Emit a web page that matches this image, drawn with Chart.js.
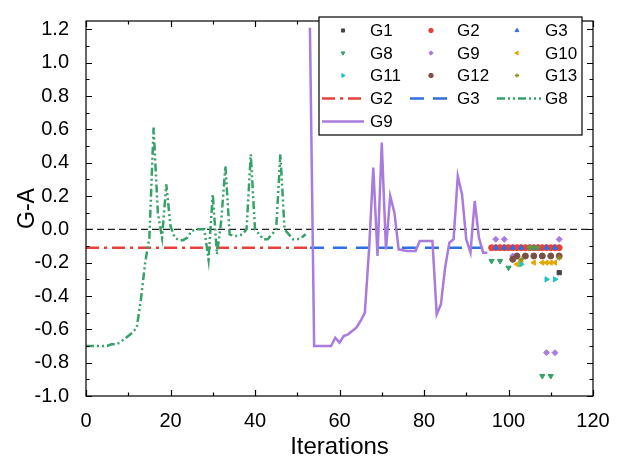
<!DOCTYPE html>
<html>
<head>
<meta charset="utf-8">
<script src="https://cdn.jsdelivr.net/npm/chart.js@4/dist/chart.umd.min.js"></script>
<style>
  body { margin: 0; background: #fff; }
</style>
</head>
<body>
<canvas id="myChart" width="621" height="466"></canvas>
<script>
const xTicks = [0, 20, 40, 60, 80, 100, 120];
const xMinor = [10, 30, 50, 70, 90, 110];
const yTicks = [-1.0, -0.8, -0.6, -0.4, -0.2, 0.0, 0.2, 0.4, 0.6, 0.8, 1.0, 1.2];
const yMinor = [-0.9, -0.7, -0.5, -0.3, -0.1, 0.1, 0.3, 0.5, 0.7, 0.9, 1.1];

// reference line at 0
const zeroX = [0, 120];
const zeroY = [0, 0];

// constant lines
const g2LineX = [0, 53];
const g2LineY = [-0.11, -0.11];
const g3LineX = [53, 94];
const g3LineY = [-0.11, -0.11];

// G8 line
const g8LineX = [0, 1, 2, 3, 4, 5, 6, 7, 8, 9, 10, 11, 12, 13, 14, 15, 16, 17, 18, 19, 20,
  21, 22, 23, 24, 25, 26, 27, 28, 29, 30, 31, 32, 33, 34, 35, 36, 37, 38, 39, 40,
  41, 42, 43, 44, 45, 46, 47, 48, 49, 50, 51, 52];
const g8LineY = [-0.70, -0.70, -0.70, -0.70, -0.70, -0.70, -0.69, -0.69, -0.68, -0.66, -0.64,
  -0.62, -0.59, -0.42, -0.20, -0.05, 0.61, 0.10, -0.05, 0.27, 0.02,
  -0.05, -0.065, -0.065, -0.05, -0.01, 0.0, 0.0, 0.0, -0.18, 0.21,
  -0.15, 0.05, 0.38, -0.03, -0.04, -0.04, -0.03, 0.0, 0.45, 0.0,
  -0.03, -0.06, -0.06, -0.03, 0.0, 0.45, 0.0, -0.03, -0.06, -0.06, -0.05, -0.03];

// G9 line
const g9LineX = [53, 54, 55, 56, 57, 58, 59, 60, 61, 62, 63, 64, 65, 66, 67, 68, 69, 70,
  71, 72, 73, 74, 75, 76, 77, 78, 79, 80, 81, 82, 83, 84, 85, 86, 87, 88, 89, 90,
  91, 92, 93, 94, 95];
const g9LineY = [1.21, -0.70, -0.70, -0.70, -0.70, -0.70, -0.65, -0.68, -0.64, -0.63, -0.61,
  -0.59, -0.55, -0.50, -0.12, 0.37, -0.16, 0.52, -0.12, 0.20, 0.10, -0.12, -0.125,
  -0.13, -0.13, -0.13, -0.07, -0.07, -0.07, -0.07, -0.51, -0.45, -0.23, -0.08, -0.06,
  0.32, 0.21, -0.06, -0.14, 0.17, -0.05, -0.14, -0.14];

// scatter groups
const g1X = [96, 100, 104, 108, 112];
const g1Y = [-0.11, -0.11, -0.11, -0.11, -0.26];
const g2X = [96, 97, 98, 99, 100, 101, 102, 103, 104, 105, 106, 107, 108, 109, 110, 111, 112];
const g2Y = [-0.11, -0.11, -0.11, -0.11, -0.11, -0.11, -0.11, -0.11, -0.11, -0.11, -0.11, -0.11, -0.11, -0.11, -0.11, -0.11, -0.11];
const g3X = [97, 99, 101, 103, 105, 107, 109, 111];
const g3Y = [-0.11, -0.11, -0.11, -0.11, -0.11, -0.11, -0.11, -0.11];
const g8X = [96, 98, 100, 105, 106, 108, 110];
const g8Y = [-0.19, -0.19, -0.23, -0.11, -0.11, -0.88, -0.88];
const g9X = [97, 99, 101, 109, 111, 112];
const g9Y = [-0.06, -0.06, -0.16, -0.74, -0.74, -0.06];
const g10X = [102, 103, 106, 108, 109, 110, 111];
const g10Y = [-0.21, -0.19, -0.20, -0.20, -0.20, -0.20, -0.20];
const g11X = [103, 109, 111];
const g11Y = [-0.21, -0.30, -0.30];
const g12X = [101, 102, 104, 106, 108, 110, 112];
const g12Y = [-0.18, -0.16, -0.16, -0.16, -0.16, -0.16, -0.16];
const g13X = [103, 105, 107, 112];
const g13Y = [-0.18, -0.11, -0.11, -0.17];

const FONT = "'Liberation Sans', Arial, sans-serif";

const pts = (xs, ys) => xs.map((x, i) => ({ x, y: ys[i] }));

const lineSet = (label, xs, ys, color, dash, order, width = 2.5) => ({
  label, data: pts(xs, ys), showLine: true, borderColor: color, backgroundColor: color,
  borderWidth: width, borderDash: dash, pointRadius: 0, fill: false, order
});

const dotSet = (label, xs, ys, color, style, rotation, order) => ({
  label, data: pts(xs, ys), showLine: false, borderColor: color, backgroundColor: color,
  pointStyle: style, pointRotation: rotation, pointRadius: 3, borderWidth: 1, order
});

const groups = [
  { label: 'G1', color: '#444444', style: 'rect', rot: 0 },
  { label: 'G2', color: '#e8403a', style: 'circle', rot: 0 },
  { label: 'G3', color: '#2f6fe0', style: 'triangle', rot: 0 },
  { label: 'G8', color: '#35a268', style: 'triangle', rot: 180 },
  { label: 'G9', color: '#a87bdc', style: 'rectRot', rot: 0 },
  { label: 'G10', color: '#e2a800', style: 'triangle', rot: 270 },
  { label: 'G11', color: '#1ec4c4', style: 'triangle', rot: 90 },
  { label: 'G12', color: '#7a5046', style: 'circle', rot: 0 },
  { label: 'G13', color: '#8d8d1c', style: 'star', rot: 0 }
];
const groupData = [[g1X, g1Y], [g2X, g2Y], [g3X, g3Y], [g8X, g8Y], [g9X, g9Y],
  [g10X, g10Y], [g11X, g11Y], [g12X, g12Y], [g13X, g13Y]];

const lines = [
  { label: 'G2', color: '#e8403a', dash: [13, 5, 3, 5] },
  { label: 'G3', color: '#2f6fe0', dash: [14, 9] },
  { label: 'G8', color: '#35a268', dash: [8, 3, 2, 3, 2, 3] },
  { label: 'G9', color: '#a87bdc', dash: [] }
];

const datasets = [
  lineSet('zero', zeroX, zeroY, '#222', [7, 4], 30, 1.3),
  lineSet('G2 line', g2LineX, g2LineY, lines[0].color, lines[0].dash, 24),
  lineSet('G3 line', g3LineX, g3LineY, lines[1].color, lines[1].dash, 23),
  lineSet('G8 line', g8LineX, g8LineY, lines[2].color, lines[2].dash, 22),
  lineSet('G9 line', g9LineX, g9LineY, lines[3].color, [], 21),
  ...groups.map((g, i) => dotSet(g.label, groupData[i][0], groupData[i][1], g.color, g.style, g.rot, 10 - i))
];

const frame = {
  id: 'frame',
  afterDraw(chart) {
    const { ctx, chartArea: a, scales: { x, y } } = chart;
    ctx.save();
    ctx.strokeStyle = '#000';
    ctx.lineWidth = 1.2;
    ctx.strokeRect(a.left, a.top, a.right - a.left, a.bottom - a.top);
    const tickX = (vals, len) => vals.forEach(v => {
      const px = Math.round(x.getPixelForValue(v)) + 0.5;
      ctx.beginPath();
      ctx.moveTo(px, a.bottom); ctx.lineTo(px, a.bottom - len);
      ctx.moveTo(px, a.top); ctx.lineTo(px, a.top + len);
      ctx.stroke();
    });
    const tickY = (vals, len) => vals.forEach(v => {
      const py = Math.round(y.getPixelForValue(v)) + 0.5;
      ctx.beginPath();
      ctx.moveTo(a.left, py); ctx.lineTo(a.left + len, py);
      ctx.moveTo(a.right, py); ctx.lineTo(a.right - len, py);
      ctx.stroke();
    });
    tickX(xTicks, 6); tickX(xMinor, 3.5);
    tickY(yTicks, 6); tickY(yMinor, 3.5);
    ctx.restore();
  }
};

const legendBox = {
  id: 'legendBox',
  afterDraw(chart) {
    const { ctx } = chart;
    const box = { left: 319, top: 17, right: 582, bottom: 135 };
    ctx.save();
    ctx.fillStyle = '#fff';
    ctx.fillRect(box.left, box.top, box.right - box.left, box.bottom - box.top);
    ctx.strokeStyle = '#000';
    ctx.lineWidth = 1.2;
    ctx.strokeRect(box.left, box.top, box.right - box.left, box.bottom - box.top);

    const rows = [30.5, 53, 75.5, 98.5, 121.5];
    const markX = [343, 431, 517];
    const textX = [370, 457, 545];
    ctx.font = '17px ' + FONT;
    ctx.textBaseline = 'middle';
    ctx.textAlign = 'left';
    groups.forEach((g, i) => {
      const r = Math.floor(i / 3), c = i % 3;
      ctx.fillStyle = g.color;
      ctx.strokeStyle = g.color;
      ctx.lineWidth = 1;
      Chart.helpers.drawPoint(ctx, { pointStyle: g.style, rotation: g.rot, radius: 2.2, borderWidth: 0.8 }, markX[c], rows[r]);
      ctx.fillStyle = '#000';
      ctx.fillText(g.label, textX[c], rows[r] + 1);
    });
    const segs = [[322, 364], [410, 448], [497, 541]];
    lines.forEach((l, i) => {
      const r = 3 + Math.floor(i / 3), c = i % 3;
      ctx.strokeStyle = l.color;
      ctx.lineWidth = 2.5;
      ctx.setLineDash(l.dash);
      ctx.beginPath();
      ctx.moveTo(segs[c][0], rows[r]);
      ctx.lineTo(segs[c][1], rows[r]);
      ctx.stroke();
      ctx.setLineDash([]);
      ctx.fillStyle = '#000';
      ctx.fillText(l.label, textX[c], rows[r] + 1);
    });
    ctx.restore();
  }
};

new Chart(document.querySelector('#myChart'), {
  type: 'scatter',
  data: { datasets },
  options: {
    responsive: false,
    animation: false,
    layout: { padding: { top: 17, right: 28, left: 0, bottom: 0 } },
    plugins: { legend: { display: false }, tooltip: { enabled: false } },
    scales: {
      x: {
        type: 'linear', min: 0, max: 120,
        afterBuildTicks: s => { s.ticks = xTicks.map(v => ({ value: v })); },
        afterFit: s => { s.height = 70; },
        grid: { display: false }, border: { display: false },
        ticks: { color: '#000', font: { family: FONT, size: 20 }, padding: 5, maxRotation: 0, autoSkip: false },
        title: { display: true, text: 'Iterations', color: '#000', font: { family: FONT, size: 24 }, padding: { top: 0, bottom: 4 } }
      },
      y: {
        type: 'linear', min: -1.0, max: 1.25,
        afterBuildTicks: s => { s.ticks = yTicks.map(v => ({ value: v })); },
        afterFit: s => { s.width = 86; },
        grid: { display: false }, border: { display: false },
        ticks: { color: '#000', font: { family: FONT, size: 20 }, padding: 9, autoSkip: false, callback: v => Number(v).toFixed(1) },
        title: { display: true, text: 'G-A', color: '#000', font: { family: FONT, size: 23 }, padding: { top: 14, bottom: 0 } }
      }
    }
  },
  plugins: [frame, legendBox]
});
</script>
</body>
</html>
